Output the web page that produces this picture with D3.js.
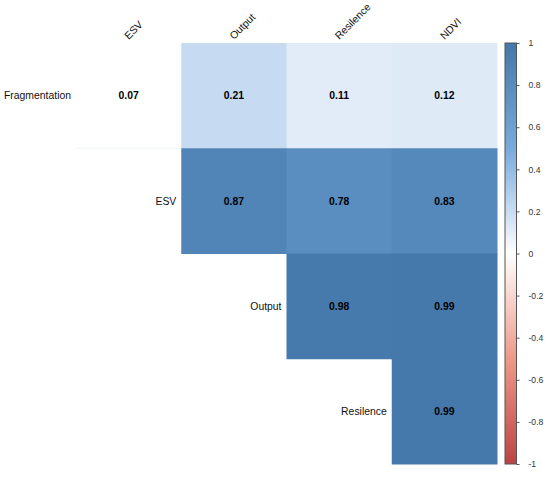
<!DOCTYPE html>
<html>
<head>
<meta charset="utf-8">
<script src="https://cdn.jsdelivr.net/npm/d3@7"></script>
<style>
    body { margin: 0; background: #ffffff; }
    text { font-family: "Liberation Sans", Arial, sans-serif; }
</style>
</head>
<body>
<div id="corr-plot"></div>
<script>
const rowVars = ['Fragmentation', 'ESV', 'Output', 'Resilence'];
const colVars = ['ESV', 'Output', 'Resilence', 'NDVI'];
// upper triangle, null = not drawn
const corrValues = [
    [0.07, 0.21, 0.11, 0.12],
    [null, 0.87, 0.78, 0.83],
    [null, null, 0.98, 0.99],
    [null, null, null, 0.99]
];
// cells left blank (not significant)
const significant = [
    [false, true, true, true],
    [null, true, true, true],
    [null, null, true, true],
    [null, null, null, true]
];
const legendTicks = [1, 0.8, 0.6, 0.4, 0.2, 0, -0.2, -0.4, -0.6, -0.8, -1];
const paletteStops = [-1, -0.5, 0, 0.5, 1];
const paletteColors = ['#BB4444', '#EE9988', '#FFFFFF', '#77AADD', '#4477AA'];

function main() {
    const svgWidth = 550;
    const svgHeight = 477;
    const grid = {left: 76, top: 43, right: 497, bottom: 464};

    const svg = d3.select('#corr-plot').append('svg')
        .attr('width', svgWidth)
        .attr('height', svgHeight)
        .style('display', 'block');

    const xScale = d3.scaleBand().domain(colVars).range([grid.left, grid.right]);
    const yScale = d3.scaleBand().domain(rowVars).range([grid.top, grid.bottom]);
    const colorScale = d3.scaleLinear().domain(paletteStops).range(paletteColors);
    const bw = xScale.bandwidth();
    const bh = yScale.bandwidth();

    const cells = [];
    corrValues.forEach((row, i) => {
        row.forEach((v, j) => {
            if (v !== null) {
                cells.push({row: rowVars[i], col: colVars[j], value: v, sig: significant[i][j]});
            }
        });
    });

    const gCells = svg.append('g');

    gCells.selectAll('rect')
        .data(cells)
        .enter()
        .append('rect')
        .attr('x', d => xScale(d.col))
        .attr('y', d => yScale(d.row))
        .attr('width', bw + 0.5)
        .attr('height', bh + 0.5)
        .attr('fill', d => d.sig ? colorScale(d.value) : '#ffffff');

    // faint edge under the blank cell
    gCells.selectAll('line.blank-edge')
        .data(cells.filter(d => !d.sig))
        .enter()
        .append('line')
        .attr('class', 'blank-edge')
        .attr('x1', d => xScale(d.col))
        .attr('x2', d => xScale(d.col) + bw)
        .attr('y1', d => yScale(d.row) + bh)
        .attr('y2', d => yScale(d.row) + bh)
        .attr('stroke', '#eef3f3')
        .attr('stroke-width', 1);

    gCells.selectAll('text.coef')
        .data(cells)
        .enter()
        .append('text')
        .attr('class', 'coef')
        .attr('x', d => xScale(d.col) + bw / 2)
        .attr('y', d => yScale(d.row) + bh / 2)
        .attr('dy', '0.35em')
        .attr('text-anchor', 'middle')
        .attr('fill', '#000000')
        .style('font-size', '10.4px')
        .style('font-weight', 'bold')
        .text(d => d.value.toFixed(2));

    // row labels sit on the (hidden) diagonal
    svg.append('g').selectAll('text')
        .data(rowVars)
        .enter()
        .append('text')
        .attr('x', (d, i) => grid.left + i * bw - 5)
        .attr('y', d => yScale(d) + bh / 2)
        .attr('dy', '0.35em')
        .attr('text-anchor', 'end')
        .attr('fill', '#111111')
        .style('font-size', '10.4px')
        .text(d => d);

    svg.append('g').selectAll('text')
        .data(colVars)
        .enter()
        .append('text')
        .attr('transform', d => `translate(${xScale(d) + bw / 2},${grid.top - 3}) rotate(-45)`)
        .attr('text-anchor', 'start')
        .attr('fill', '#111111')
        .style('font-size', '10.4px')
        .text(d => d);

    // colour legend
    const legend = {left: 505, width: 11.5};
    const yLegend = d3.scaleLinear().domain([-1, 1]).range([grid.bottom, grid.top]);

    const gradient = svg.append('defs').append('linearGradient')
        .attr('id', 'corr-gradient')
        .attr('x1', '0%').attr('y1', '100%')
        .attr('x2', '0%').attr('y2', '0%');

    gradient.selectAll('stop')
        .data(paletteStops)
        .enter()
        .append('stop')
        .attr('offset', d => ((d + 1) / 2 * 100) + '%')
        .attr('stop-color', d => colorScale(d));

    svg.append('rect')
        .attr('x', legend.left)
        .attr('y', yLegend(1))
        .attr('width', legend.width)
        .attr('height', yLegend(-1) - yLegend(1))
        .attr('fill', 'url(#corr-gradient)')
        .attr('stroke', '#555555')
        .attr('stroke-width', 1);

    const legendAxis = svg.append('g')
        .attr('transform', `translate(${legend.left + legend.width},0)`)
        .call(d3.axisRight(yLegend)
            .tickValues(legendTicks)
            .tickFormat(d => String(d))
            .tickSize(3)
            .tickPadding(9));

    legendAxis.select('.domain').remove();
    legendAxis.selectAll('.tick line').attr('stroke', '#555555');
    legendAxis.selectAll('.tick text')
        .attr('fill', '#333333')
        .style('font-family', '"Liberation Sans", Arial, sans-serif')
        .style('font-size', '8.6px');
}

main();
</script>
</body>
</html>
